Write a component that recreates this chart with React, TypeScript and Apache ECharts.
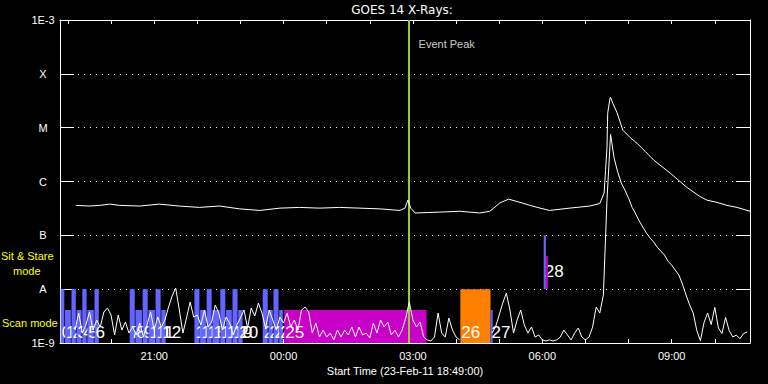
import React, { useEffect, useRef } from 'react';
import * as echarts from 'echarts';

// ---------- texts ----------
const chartTitle = 'GOES 14 X-Rays:';
const axisTitle = 'Start Time (23-Feb-11 18:49:00)';
const eventName = 'Event Peak';
const stareText = ['Sit & Stare', 'mode'];
const scanText = 'Scan mode';

// ---------- axes ----------
const startTime = '18:49';
const spanHours = 16;
const hourTickTimes = ['19:00', '20:00', '21:00', '22:00', '23:00', '00:00', '01:00', '02:00', '03:00', '04:00', '05:00', '06:00', '07:00', '08:00', '09:00', '10:00'];
const labelTimes = ['21:00', '00:00', '03:00', '06:00', '09:00'];
const yTickLabels = ['1E-9', 'A', 'B', 'C', 'M', 'X', '1E-3'];
const yMin = 1e-9;
const yMax = 1e-3;

// ---------- event ----------
const eventPeakTime = '02:54';
const eventLabelLevel = 3.6e-4;

// ---------- GOES long channel (1-8 A), W/m^2 ----------
const longTimes = ['19:11', '19:30', '19:44', '19:58', '20:12', '20:40', '21:07', '21:35', '22:03', '22:31', '22:59', '23:27', '23:55', '00:22', '00:50', '01:18', '01:46', '02:14', '02:42', '02:49', '02:53', '02:57', '03:03', '03:37', '04:05', '04:33', '04:47', '05:01', '05:13', '05:29', '05:43', '05:57', '06:10', '06:38', '07:06', '07:20', '07:26', '07:28', '07:30', '07:31', '07:34', '07:35', '07:38', '07:44', '07:52', '08:02', '08:12', '08:23', '08:35', '08:58', '09:21', '09:39', '09:49', '10:03', '10:17', '10:31', '10:49'];
const longValues = [3.6e-7, 3.5e-7, 3.6e-7, 3.8e-7, 3.6e-7, 3.5e-7, 3.8e-7, 3.5e-7, 3.3e-7, 3.5e-7, 3.1e-7, 2.9e-7, 3.2e-7, 3.3e-7, 3.2e-7, 3.3e-7, 3.2e-7, 3.1e-7, 2.9e-7, 3.2e-7, 4.5e-7, 3.2e-7, 2.6e-7, 2.7e-7, 2.8e-7, 2.6e-7, 2.8e-7, 4.0e-7, 4.7e-7, 4.1e-7, 3.6e-7, 3.2e-7, 2.9e-7, 3.2e-7, 3.5e-7, 3.9e-7, 6.1e-7, 1.6e-6, 4.3e-6, 1.85e-5, 3.4e-5, 3.65e-5, 2.85e-5, 1.9e-5, 9.0e-6, 6.6e-6, 5.1e-6, 3.65e-6, 2.5e-6, 1.43e-6, 7.8e-7, 5.3e-7, 4.5e-7, 4.1e-7, 3.6e-7, 3.3e-7, 2.8e-7];

// ---------- GOES short channel (0.5-4 A), nW/m^2, one sample every 5 min ----------
const shortStart = '19:10';
const shortStepMinutes = 5;
const shortValuesNano: (number | null)[] = [
  1.74, 3.6, 1.53, 2.16, 3.76, 1.74, 2.67, 1.98, 3.76, 4.46,
  3.31, 1.41, 3.31, 1.74, 2.45, 1.53, 1.98, 1.41, 2.35, 1.29,
  2.16, 3.76, 1.74, 3.04, 1.98, 2.67, 4.66, 7.45, 10.5, 4.1,
  1.53, 2.91, 5.77, 3.04, 3.31, 2.16, 4.1, 1.98, 2.45, 5.07,
  3.6, 1.74, 3.04, 2.35, 1.41, 2.16, 2.91, 4.1, 1.9, 4.46,
  3.17, 5.52, 3.6, 1.9, 4.1, 2.67, 1.74, 3.04, 2.35, 3.6,
  1.98, 2.67, 1.74, 4.1, 4.66, 3.76, 1.53, 2.35, 1.29, 1.74,
  1.29, 1.53, 1.14, 1.74, 1.29, 1.74, 1.41, 1.98, 1.29, 1.98,
  1.41, 1.53, 1.24, 2.35, 1.53, 2.67, 1.98, 2.45, 1.41, 1.74,
  1.29, 1.74, 2.91, 5.77, 2.67, 1.98, 2.45, 1.29, 1.14, 1.09,
  1.29, 3.6, 1.53, 1.29, 2.91, 1.74, 1.29, 1.14, null, null,
  null, null, null, null, null, null, 1.53, 1.98, 3.31, 5.52,
  8.46, 4.1, 1.53, 2.67, 4.1, 2.16, 1.53, 1.98, 1.29, 1.41,
  1.14, 1.09, 1.14, 1.09, 1.14, 1.29, 1.74, 1.41, 1.14, 1.53,
  1.9, 1.29, 1.14, 1.29, 1.98, 4.66, 3.6, 7.8, 450, 7500,
  2700, 1490, 930, 690, 490, 330, 250, 183, 142, 110,
  89, 75, 60, 51, 43, 33, 28, 22.6, 18.3, 12.4,
  7.8, 5.1, 3.6, 1.7, 1.1, 2.4, 3.6, 2.2, 4.6, 1.9,
  1.5, 3.0, 1.7, 1.3, 1.4, 1.2, 1.5, 1.6
];

// ---------- observations (scan / sit & stare) ----------
const obsLabel = ['0', '1', '2', '3', '4', '5', '6', '7', '8', '9', '10', '11', '12', '13', '14', '15', '16', '17', '18', '19', '20', '21', '22', '23', '24', '25', '26', '27', '28', ''];
const obsStart = ['18:50', '18:56', '19:05', '19:12', '19:20', '19:27', '19:37', '20:26', '20:34', '20:44', '20:52', '21:02', '21:10', '21:56', '22:04', '22:13', '22:21', '22:32', '22:40', '22:49', '22:57', '23:31', '23:39', '23:46', '23:54', '00:01', '04:06', '04:48', '06:02', '06:05'];
const obsEnd = ['18:55', '19:04', '19:11', '19:19', '19:26', '19:36', '19:43', '20:33', '20:43', '20:51', '21:01', '21:09', '21:16', '22:03', '22:12', '22:20', '22:31', '22:39', '22:48', '22:56', '23:03', '23:38', '23:45', '23:53', '23:59', '03:19', '04:48', '04:51', '06:05', '06:06'];
const obsHeight = ['T', 'S', 'T', 'S', 'T', 'S', 'T', 'T', 'S', 'T', 'S', 'T', 'S', 'T', 'S', 'T', 'S', 'T', 'S', 'T', 'S', 'T', 'S', 'T', 'S', 'S', 'T', 'S', 'T', 'S'];
const obsKind = ['raster', 'raster', 'raster', 'raster', 'raster', 'raster', 'raster', 'raster', 'raster', 'raster', 'raster', 'raster', 'raster', 'raster', 'raster', 'raster', 'raster', 'raster', 'raster', 'raster', 'raster', 'raster', 'raster', 'raster', 'raster', 'long', 'special', 'raster', 'raster', 'long'];
const obsMode = ['scan', 'scan', 'scan', 'scan', 'scan', 'scan', 'scan', 'scan', 'scan', 'scan', 'scan', 'scan', 'scan', 'scan', 'scan', 'scan', 'scan', 'scan', 'scan', 'scan', 'scan', 'scan', 'scan', 'scan', 'scan', 'scan', 'scan', 'scan', 'stare', 'stare'];
const scanLevels = { base: 1e-9, tall: 1e-8, short: 4.1e-9 };
const stareLevels = { base: 1e-8, tall: 1e-7, short: 4.1e-8 };

// ---------- styles ----------
const kindColors: Record<string, string> = { raster: '#6464ff', long: '#c800c8', special: '#ff8000' };
const eventColor = '#9acd32';
const modeColor = '#ffff00';
const FONT = '"Liberation Sans", Arial, sans-serif';

function toHours(t: string): number {
  const [h, m] = t.split(':').map(Number);
  const v = h + m / 60;
  return v < 12 ? v + 24 : v;
}

export default function App() {
  const ref = useRef<HTMLDivElement>(null);
  useEffect(() => {
    if (!ref.current) return;
    const chart = echarts.init(ref.current, null, { renderer: 'svg' });
    const x0 = toHours(startTime);
    const x1 = x0 + spanHours;
    const hourTicks = hourTickTimes.map(toHours);
    const labelTicks = labelTimes.map(toHours);

    const longData = longTimes.map((t, i) => [toHours(t), longValues[i]]);
    const s0 = toHours(shortStart);
    const shortData = shortValuesNano.map((v, i) => [s0 + (i * shortStepMinutes) / 60, v == null ? null : v * 1e-9]);

    const blocks = obsStart.map((s, i) => {
      const lv = obsMode[i] === 'scan' ? scanLevels : stareLevels;
      return {
        value: [toHours(s), toHours(obsEnd[i]), lv.base, obsHeight[i] === 'T' ? lv.tall : lv.short],
        kind: obsKind[i],
        label: obsLabel[i],
        mode: obsMode[i],
      };
    });

    const fmtHour = (v: number) => String(Math.round(v) % 24).padStart(2, '0') + ':00';
    const fmtY = (v: number) => yTickLabels[Math.round(Math.log10(v)) + 9] ?? '';

    chart.setOption({
      animation: false,
      backgroundColor: '#000',
      grid: { left: 60, right: 18, top: 20, bottom: 41 },
      graphic: [
        { type: 'text', x: 402, y: 10, style: { text: chartTitle, fill: '#fff', font: '12px "DejaVu Sans"', align: 'center', verticalAlign: 'middle' } },
        { type: 'text', x: 1, y: 256, style: { text: stareText[0], fill: modeColor, font: '11px ' + FONT, align: 'left', verticalAlign: 'middle' } },
        { type: 'text', x: 13, y: 271, style: { text: stareText[1], fill: modeColor, font: '11px ' + FONT, align: 'left', verticalAlign: 'middle' } },
        { type: 'text', x: 2, y: 323, style: { text: scanText, fill: modeColor, font: '11px ' + FONT, align: 'left', verticalAlign: 'middle' } },
      ],
      xAxis: [
        {
          type: 'value', min: x0, max: x1, position: 'bottom',
          axisLine: { lineStyle: { color: '#fff', width: 1 } },
          axisTick: { inside: true, length: 4, customValues: hourTicks, lineStyle: { color: '#fff' } },
          axisLabel: { customValues: labelTicks, formatter: fmtHour, color: '#fff', fontFamily: FONT, fontSize: 11, margin: 7 },
          splitLine: { show: false },
          name: axisTitle, nameLocation: 'middle', nameGap: 20,
          nameTextStyle: { color: '#fff', fontFamily: FONT, fontSize: 11 },
        },
        {
          type: 'value', min: x0, max: x1, position: 'top',
          axisLine: { lineStyle: { color: '#fff', width: 1 } },
          axisTick: { inside: true, length: 4, customValues: hourTicks, lineStyle: { color: '#fff' } },
          axisLabel: { show: false },
          splitLine: { show: false },
        },
      ],
      yAxis: [
        {
          type: 'log', logBase: 10, min: yMin, max: yMax, splitNumber: 6, position: 'left',
          axisLine: { lineStyle: { color: '#fff', width: 1 } },
          axisTick: { inside: true, length: 14, lineStyle: { color: '#fff' } },
          minorTick: { show: false },
          axisLabel: { formatter: fmtY, color: '#fff', fontFamily: FONT, fontSize: 11, align: 'center', margin: 17 },
          splitLine: { show: true, lineStyle: { color: '#fff', type: [1, 5], width: 1 } },
        },
        {
          type: 'log', logBase: 10, min: yMin, max: yMax, splitNumber: 6, position: 'right',
          axisLine: { lineStyle: { color: '#fff', width: 1 } },
          axisTick: { inside: true, length: 14, lineStyle: { color: '#fff' } },
          axisLabel: { show: false },
          splitLine: { show: false },
        },
      ],
      series: [
        {
          type: 'custom', name: 'observations', xAxisIndex: 0, yAxisIndex: 0, z: 1,
          encode: { x: [0, 1], y: [2, 3] },
          data: blocks.map((b) => b.value),
          renderItem: (params: any, api: any) => {
            const b = blocks[params.dataIndex];
            const tl = api.coord([api.value(0), api.value(3)]);
            const br = api.coord([api.value(1), api.value(2)]);
            const w = Math.max(br[0] - tl[0], 2);
            const children: any[] = [
              { type: 'rect', shape: { x: tl[0], y: tl[1], width: w, height: br[1] - tl[1] }, style: { fill: kindColors[b.kind] } },
            ];
            if (b.label) {
              children.push({
                type: 'text', x: tl[0] + 1, y: br[1] - (b.mode === 'scan' ? 2 : 9),
                style: { text: b.label, fill: '#fff', font: '17px ' + FONT, align: 'left', verticalAlign: 'bottom' },
              });
            }
            return { type: 'group', children };
          },
        },
        {
          type: 'line', name: 'short', data: shortData, showSymbol: false, connectNulls: false, z: 5,
          lineStyle: { color: '#fff', width: 1 },
        },
        {
          type: 'line', name: 'long', data: longData, showSymbol: false, z: 5,
          lineStyle: { color: '#fff', width: 1 },
        },
        {
          type: 'scatter', name: 'event', z: 6,
          data: [[toHours(eventPeakTime), eventLabelLevel]],
          symbolSize: 0,
          label: { show: true, formatter: eventName, position: 'right', distance: 10, color: '#fff', fontFamily: FONT, fontSize: 11 },
          markLine: {
            silent: true, symbol: ['none', 'none'], label: { show: false },
            lineStyle: { color: eventColor, width: 2, type: 'solid' },
            data: [{ xAxis: toHours(eventPeakTime) }],
          },
        },
      ],
    });
    return () => chart.dispose();
  }, []);
  return <div ref={ref} style={{ position: 'fixed', left: 0, top: 0, width: 768, height: 384, background: '#000' }} />;
}
